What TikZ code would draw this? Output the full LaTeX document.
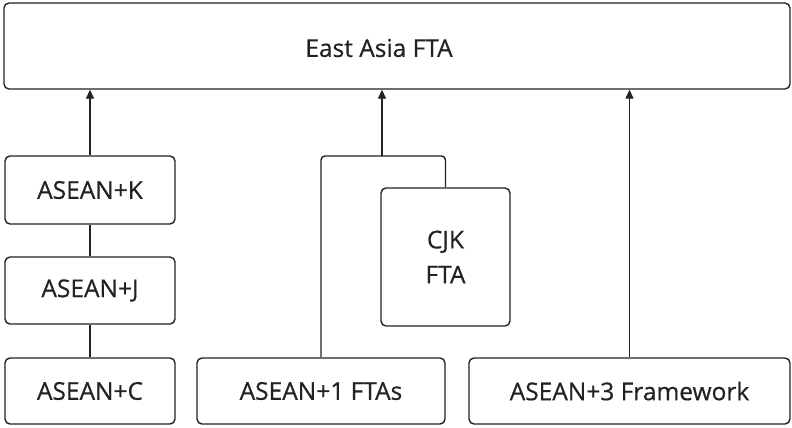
\documentclass[tikz,border=0pt]{standalone}
\usepackage{fontspec}
\setmainfont{Open Sans}
\newfontfamily\boxff[FakeBold=0.5]{Open Sans}
\usetikzlibrary{arrows.meta}
\definecolor{ink}{HTML}{222222}
\newcommand{\boxfont}{\boxff\fontsize{24.5bp}{35bp}\selectfont}
\tikzset{
	fbox/.style={draw=ink, line width=1.4bp, rounded corners=5bp, text=ink, font=\boxfont, align=center, inner sep=0pt},
	link/.style={draw=ink, line width=1.4bp},
	up/.style={link, -{Triangle[length=9bp,width=8bp]}}
}
\begin{document}
\begin{tikzpicture}[x=1bp,y=-1bp]
		\useasboundingbox (0,0) rectangle (792,427);
		\node [fbox, minimum width=786bp, minimum height=86bp, label={[text=ink, font=\boxfont, xshift=-18bp, yshift=-2bp]center:East Asia FTA}] (eafta) at (397,46) {};
		\node [fbox, minimum width=170bp, minimum height=68bp] (asK) at (90,190) {ASEAN+K};
		\node [fbox, minimum width=170bp, minimum height=67bp] (asJ) at (90,290.5) {ASEAN+J};
		\node [fbox, minimum width=170bp, minimum height=66bp] (asC) at (90,391) {ASEAN+C};
		\node [fbox, minimum width=248bp, minimum height=66bp] (asOne) at (321,391) {ASEAN+1 FTAs};
		\node [fbox, minimum width=321bp, minimum height=66bp] (asThree) at (629.5,391) {ASEAN+3 Framework};
		\node [fbox, minimum width=129bp, minimum height=138bp] (cjk) at (445.5,257) {CJK\\FTA};
		\coordinate (brtop) at (382,156);
		
		\draw [up] (asK.north) -- (asK.north |- eafta.south);
		\draw [link] (asK) -- (asJ);
		\draw [link] (asJ) -- (asC);
		\draw [link, rounded corners=4bp] (asOne.north) |- (brtop) -| (cjk.north);
		\draw [up] (brtop) -- (brtop |- eafta.south);
		\draw [up] (asThree.north) -- (asThree.north |- eafta.south);
	\end{tikzpicture}
\end{document}
